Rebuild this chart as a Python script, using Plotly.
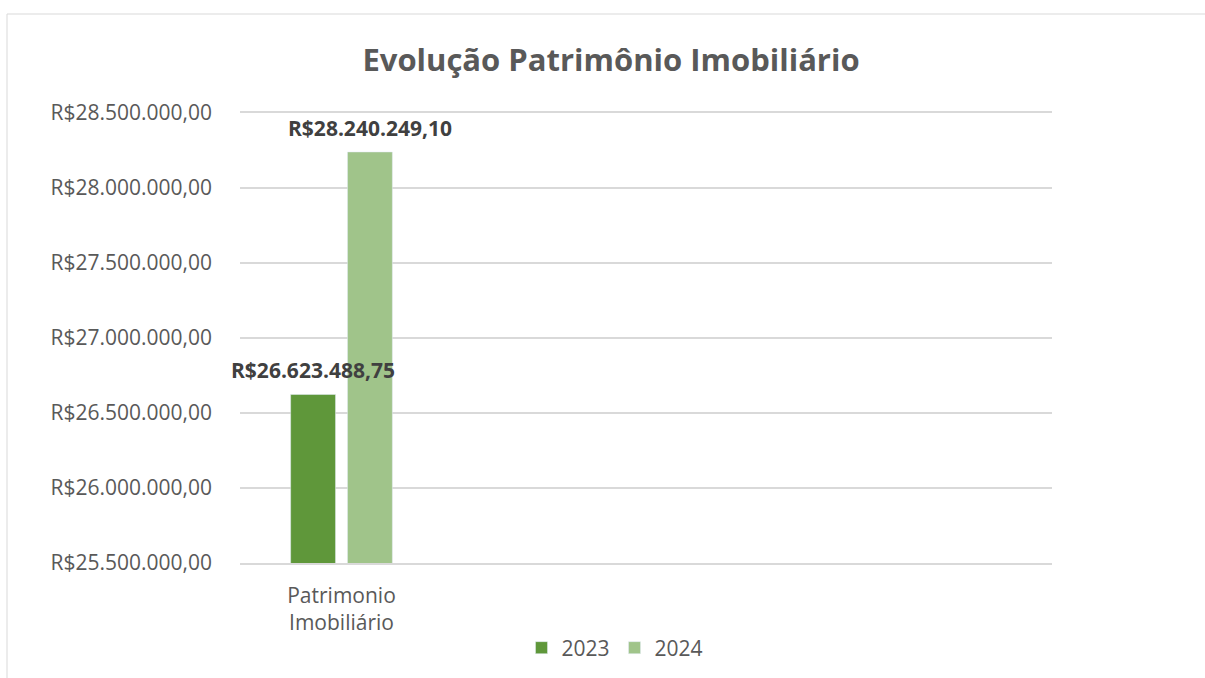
import plotly.graph_objects as go

# ── Data ─────────────────────────────────────────────
categories = ["Patrimonio<br>Imobiliário"]
values_2023 = [26623488.75]
values_2024 = [28240249.10]
series_names = ["2023", "2024"]

COLORS = {"2023": "#5F973A", "2024": "#A0C48A"}
FONT = "Open Sans"
GRID = "#D9D9D9"

W, H = 1205, 678
L, R, T, B = 240, 153, 113, 115
PW = W - L - R
PH = H - T - B

N_SLOTS = 4          # Excel chart leaves room for 4 categories
BARGAP = 0.44
BARGROUPGAP = 0.21


def brl(v):
    """R$ formatting with Brazilian separators."""
    s = f"{v:,.2f}".replace(",", "X").replace(".", ",").replace("X", ".")
    return "R$" + s


fig = go.Figure()
for name, vals in zip(series_names, [values_2023, values_2024]):
    fig.add_trace(go.Bar(
        name=name,
        x=categories,
        y=vals,
        marker_color=COLORS[name],
    ))

# data labels on top of everything (Excel draws them over the bars)
group_px = PW / N_SLOTS * (1 - BARGAP)
for i, vals in enumerate([values_2023, values_2024]):
    shift = (i - 0.5) * group_px / 2
    for cat, v in zip(categories, vals):
        fig.add_annotation(
            x=cat, y=v, text=f"<b>{brl(v)}</b>",
            showarrow=False, xshift=shift, yshift=8,
            yanchor="bottom", xanchor="center",
            font=dict(family=FONT, size=21, color="#404040"),
        )

# chart area border (Excel style), partly cut off at right/bottom
fig.add_shape(
    type="rect", xref="paper", yref="paper",
    x0=(7 - L) / PW, x1=(W + 20 - L) / PW,
    y0=(H - (H + 20) - B) / PH, y1=(H - 14 - B) / PH,
    line=dict(color=GRID, width=1), fillcolor="rgba(0,0,0,0)",
)

fig.update_layout(
    width=W, height=H,
    margin=dict(l=L, r=R, t=T, b=B, autoexpand=False),
    paper_bgcolor="white", plot_bgcolor="white",
    separators=",.",
    barmode="group",
    bargap=BARGAP,
    bargroupgap=BARGROUPGAP,
    title=dict(
        text="<b>Evolução Patrimônio Imobiliário</b>",
        x=611 / W, xref="container", xanchor="center",
        y=1 - 60 / H, yref="container", yanchor="middle",
        font=dict(family=FONT, size=31, color="#595959"),
    ),
    font=dict(family=FONT, size=21, color="#595959"),
    xaxis=dict(
        type="category",
        range=[-0.5, N_SLOTS - 0.5],
        showgrid=False,
        showline=True,
        mirror=True,
        linecolor=GRID,
        linewidth=1.5,
        zeroline=False,
        tickfont=dict(family=FONT, size=21, color="#595959"),
        ticklabelstandoff=13,
    ),
    yaxis=dict(
        range=[25500000, 28500000],
        dtick=500000,
        tickprefix="R$",
        tickformat=",.2f",
        showgrid=True,
        gridcolor=GRID,
        gridwidth=1.5,
        zeroline=False,
        showline=False,
        tickfont=dict(family=FONT, size=21, color="#595959"),
        ticklabelstandoff=27,
    ),
    legend=dict(
        orientation="h",
        x=615 / W, xref="container", xanchor="center",
        y=1 - 648 / H, yref="container", yanchor="middle",
        font=dict(family=FONT, size=21, color="#595959"),
        itemwidth=30,
    ),
)

fig.write_html(
    "out.html",
    config={"displayModeBar": False},
    post_script="document.body.style.margin='0';",
)
